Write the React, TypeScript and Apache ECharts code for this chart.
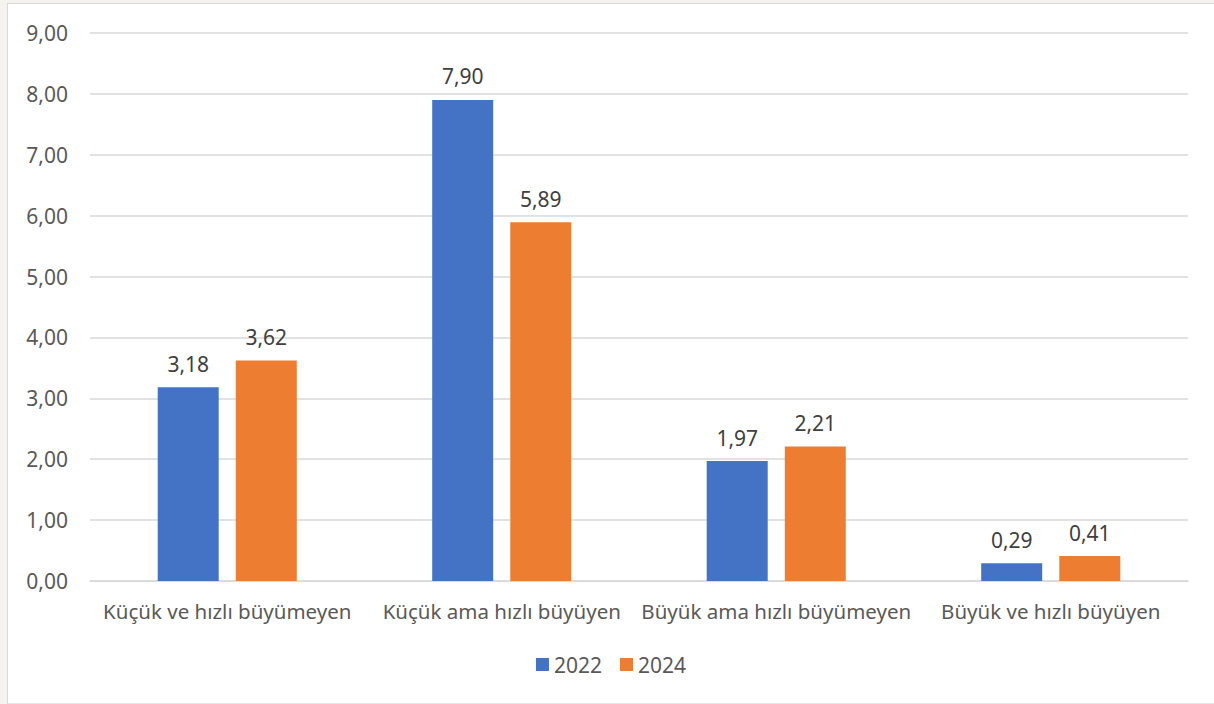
import React, { useEffect, useRef } from "react";
import * as echarts from "echarts";

const categories = [
  "Küçük ve hızlı büyümeyen",
  "Küçük ama hızlı büyüyen",
  "Büyük ama hızlı büyümeyen",
  "Büyük ve hızlı büyüyen",
];
const seriesNames = ["2022", "2024"];
const values2022 = [3.18, 7.9, 1.97, 0.29];
const values2024 = [3.62, 5.89, 2.21, 0.41];
const colors = ["#4472c4", "#ed7d31"];

const fmt = (v: number) => v.toFixed(2).replace(".", ",");
const FONT = "'Noto Sans', 'Open Sans', sans-serif";

export default function App() {
  const ref = useRef<HTMLDivElement>(null);
  useEffect(() => {
    if (!ref.current) return;
    const chart = echarts.init(ref.current, undefined, { renderer: "svg" });
    const mk = (name: string, data: number[], color: string) => ({
      name,
      type: "bar",
      data,
      barWidth: 61,
      barGap: "28%",
      itemStyle: { color },
      label: {
        show: true,
        position: "top",
        distance: 13,
        formatter: (p: any) => fmt(p.value),
        color: "#404040",
        fontSize: 21,
        fontFamily: FONT,
      },
    });
    chart.setOption({
      animation: false,
      textStyle: { fontFamily: FONT },
      grid: { left: 82, right: 26, top: 29, bottom: 122, containLabel: false },
      legend: {
        data: seriesNames,
        bottom: 23,
        left: "center",
        itemWidth: 13,
        itemHeight: 13,
        itemGap: 18,
        icon: "rect",
        textStyle: { color: "#595959", fontSize: 21, fontFamily: FONT },
      },
      xAxis: {
        type: "category",
        data: categories,
        axisTick: { show: false },
        axisLine: { lineStyle: { color: "#d9d9d9", width: 1.5 } },
        axisLabel: { color: "#595959", fontSize: 20.5, margin: 19, fontFamily: FONT, interval: 0 },
      },
      yAxis: {
        type: "value",
        min: 0,
        max: 9,
        interval: 1,
        axisLabel: {
          color: "#595959",
          fontSize: 21,
          margin: 22,
          fontFamily: FONT,
          formatter: (v: number) => fmt(v),
        },
        splitLine: { lineStyle: { color: "#d9d9d9", width: 1.5 } },
        axisLine: { show: false },
        axisTick: { show: false },
      },
      series: [
        mk(seriesNames[0], values2022, colors[0]),
        mk(seriesNames[1], values2024, colors[1]),
      ],
    });
    return () => chart.dispose();
  }, []);
  return (
    <div
      style={{
        position: "fixed",
        left: 0,
        top: 0,
        width: 1214,
        height: 704,
        background: "#f4f3ef",
        overflow: "hidden",
      }}
    >
      <div
        style={{
          position: "absolute",
          left: 7,
          top: 3,
          width: 1207,
          height: 699,
          background: "#ffffff",
          borderLeft: "1px solid #d9d9d9",
          borderTop: "1px solid #d9d9d9",
          borderBottom: "1px solid #e6e6e6",
        }}
      >
        <div ref={ref} style={{ width: 1206, height: 699 }} />
      </div>
    </div>
  );
}
